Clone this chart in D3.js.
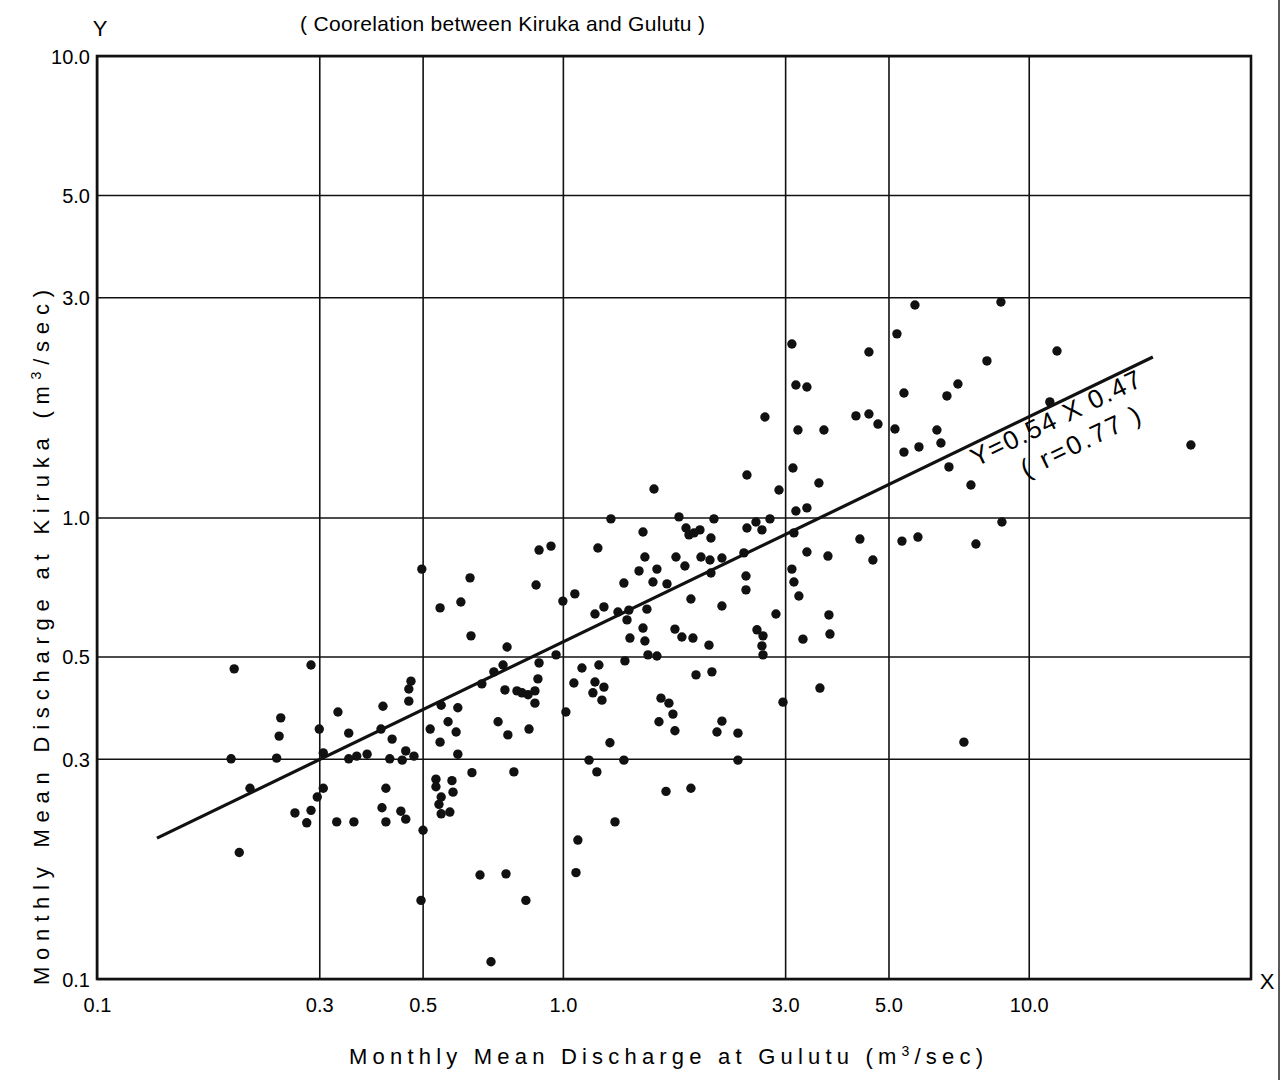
<!DOCTYPE html>
<html>
<head>
<meta charset="utf-8">
<script src="https://cdn.jsdelivr.net/npm/d3@7"></script>
<style>
  body { margin: 0; background: #fff; }
  svg { display: block; font-family: "Liberation Sans", "DejaVu Sans", sans-serif; }
  .grid line { stroke: #111; stroke-width: 1.6; }
  .grid text { font-size: 20px; fill: #000; }
</style>
</head>
<body>
<div id="chart"></div>
<script>
// monthly mean discharge (m3/sec)
var gulutu = [
  0.197,0.288,0.248,0.246,0.194,0.243,0.300,0.306,0.329,0.347,
  0.347,0.361,0.380,0.411,0.407,0.430,0.472,0.467,0.467,0.425,
  0.452,0.460,0.479,0.213,0.306,0.297,0.288,0.266,0.282,0.327,
  0.356,0.417,0.409,0.449,0.417,0.460,0.501,0.202,0.548,0.595,
  0.567,0.519,0.590,0.545,0.595,0.711,0.670,0.726,0.638,0.534,
  0.534,0.578,0.581,0.548,0.542,0.548,0.572,0.664,
  0.498,0.632,0.604,0.545,0.635,0.759,0.889,0.943,0.876,1.000,
  0.967,1.061,1.189,1.500,1.457,1.592,1.749,1.828,1.979,2.069,
  2.195,2.079,1.352,1.561,1.673,1.883,2.195,1.172,1.225,1.313,
  1.386,1.515,1.373,1.486,1.393,1.500,1.740,1.801,1.902,2.059,
  1.523,1.592,1.359,1.099,1.195,1.931,2.089,1.056,1.172,1.225,
  1.160,1.213,1.624,1.689,1.723,1.608,1.740,2.195,2.142,2.376,
  1.262,0.889,0.744,0.751,0.797,0.817,0.842,0.871,0.884,0.871,
  1.015,0.762,0.846,0.785,1.138,1.183,1.352,1.665,1.883,2.376,
  1.294,1.077,0.755,1.067,0.833,0.701,0.496,
  3.164,3.341,2.484,2.597,2.783,2.675,2.447,3.133,4.341,3.341,
  3.707,4.629,3.102,3.133,3.211,2.472,2.472,2.867,3.725,3.744,
  3.276,2.610,2.689,2.675,2.689,3.563,2.968,5.344,5.783,7.703,
  8.759,7.259,
  5.698,8.716,3.102,5.213,4.539,3.164,3.341,8.134,11.50,7.047,
  5.397,6.674,2.715,4.257,4.539,4.746,3.196,3.634,5.162,6.352,
  11.10,5.812,5.397,6.479,6.741,7.516,2.484,2.910,3.118,3.545,
  22.29,
  1.569,1.268,1.775,2.110,1.486,1.838,1.865,1.912,1.969,2.079
];
var kiruka = [
  0.470,0.479,0.368,0.336,0.300,0.301,0.348,0.309,0.379,0.341,
  0.300,0.304,0.307,0.390,0.348,0.331,0.442,0.425,0.400,0.300,
  0.298,0.312,0.304,0.259,0.259,0.248,0.232,0.229,0.218,0.219,
  0.219,0.259,0.235,0.231,0.219,0.222,0.210,0.188,0.392,0.387,
  0.361,0.348,0.343,0.326,0.307,0.463,0.436,0.361,0.280,0.271,
  0.261,0.269,0.254,0.248,0.239,0.228,0.230,0.168,
  0.773,0.740,0.656,0.637,0.554,0.524,0.850,0.867,0.714,0.659,
  0.504,0.683,0.859,0.821,0.766,0.773,0.821,0.785,0.821,0.809,
  0.817,0.758,0.721,0.725,0.718,0.666,0.643,0.618,0.640,0.624,
  0.630,0.633,0.600,0.576,0.548,0.540,0.573,0.551,0.548,0.529,
  0.504,0.501,0.489,0.472,0.479,0.456,0.463,0.438,0.440,0.429,
  0.417,0.402,0.406,0.396,0.375,0.361,0.345,0.362,0.343,0.341,
  0.325,0.484,0.479,0.423,0.421,0.417,0.413,0.421,0.447,0.396,
  0.379,0.338,0.348,0.281,0.298,0.281,0.298,0.255,0.259,0.298,
  0.219,0.200,0.169,0.170,0.148,0.109,0.148,
  1.033,1.049,0.949,0.978,0.993,0.940,0.838,0.926,0.898,0.842,
  0.825,0.809,0.773,0.725,0.676,0.747,0.697,0.618,0.615,0.559,
  0.545,0.571,0.554,0.527,0.504,0.427,0.398,0.889,0.907,0.876,
  0.978,0.326,
  2.887,2.931,2.377,2.500,2.284,1.937,1.918,2.184,2.295,1.947,
  1.861,1.834,1.651,1.660,1.676,1.594,1.547,1.547,1.555,1.547,
  1.780,1.422,1.386,1.450,1.287,1.176,1.236,1.147,1.280,1.188,
  1.436,
  1.153,0.993,1.003,0.993,0.930,0.949,0.917,0.926,0.940,0.903
];

var xTicks = [0.1, 0.3, 0.5, 1, 3, 5, 10];
var xTickLabels = ["0.1", "0.3", "0.5", "1.0", "3.0", "5.0", "10.0"];
var yTicks = [0.1, 0.3, 0.5, 1, 3, 5, 10];
var yTickLabels = ["0.1", "0.3", "0.5", "1.0", "3.0", "5.0", "10.0"];

// regression line ends, Y = 0.54 X^0.47
var fitX = [0.1345, 18.47];
var fitY = [0.202, 2.228];

var margin = {top: 56, right: 33, bottom: 101, left: 97},
    width = 1284 - margin.left - margin.right,
    height = 1080 - margin.top - margin.bottom;

var root = d3.select("#chart").append("svg")
    .attr("width", 1284)
    .attr("height", 1080);

var svg = root.append("g")
    .attr("transform", "translate(" + margin.left + "," + margin.top + ")");

var x = d3.scaleLog().domain([0.1, 30]).range([0, width]);
var y = d3.scaleLog().domain([0.1, 10]).range([height, 0]);

// grid lines + tick labels
svg.append("g")
    .attr("class", "grid")
    .attr("transform", "translate(0," + height + ")")
    .call(d3.axisBottom(x).tickValues(xTicks)
        .tickFormat(function(d, i) { return xTickLabels[i]; })
        .tickSize(-height).tickPadding(19))
    .call(function(g) { g.select(".domain").remove(); });

svg.append("g")
    .attr("class", "grid")
    .call(d3.axisLeft(y).tickValues(yTicks)
        .tickFormat(function(d, i) { return yTickLabels[i]; })
        .tickSize(-width).tickPadding(7))
    .call(function(g) { g.select(".domain").remove(); })
    .selectAll("text").attr("dy", "0.36em");

svg.append("rect")
    .attr("width", width)
    .attr("height", height)
    .attr("fill", "none")
    .attr("stroke", "#111")
    .attr("stroke-width", 2.6);

// points
var pts = gulutu.map(function(g, i) { return {x: g, y: kiruka[i]}; });
svg.selectAll("circle.pt")
    .data(pts)
    .enter().append("circle")
    .attr("class", "pt")
    .attr("cx", function(d) { return x(d.x); })
    .attr("cy", function(d) { return y(d.y); })
    .attr("r", 4.7)
    .attr("fill", "#111");

// fitted line
var fit = fitX.map(function(v, i) { return [v, fitY[i]]; });
svg.append("path")
    .attr("d", d3.line()
        .x(function(d) { return x(d[0]); })
        .y(function(d) { return y(d[1]); })(fit))
    .attr("stroke", "#111")
    .attr("stroke-width", 3.2)
    .attr("fill", "none");

var eq = root.append("g")
    .attr("transform", "translate(976,467) rotate(-26)")
    .attr("fill", "#000")
    .style("font-size", "26px");
eq.append("text")
    .attr("x", 0).attr("y", 0)
    .attr("textLength", 186)
    .attr("lengthAdjust", "spacing")
    .text("Y=0.54 X 0.47");
eq.append("text")
    .attr("x", 40).attr("y", 32)
    .attr("textLength", 130)
    .attr("lengthAdjust", "spacing")
    .text("( r=0.77 )");

// titles
root.append("text")
    .attr("x", 300).attr("y", 31)
    .attr("textLength", 405)
    .attr("lengthAdjust", "spacing")
    .style("font-size", "21px")
    .attr("fill", "#000")
    .text("( Coorelation between Kiruka and Gulutu )");

root.append("text")
    .attr("x", 100).attr("y", 36)
    .attr("text-anchor", "middle")
    .style("font-size", "22px")
    .attr("fill", "#000")
    .text("Y");

root.append("text")
    .attr("x", 1267).attr("y", 989)
    .attr("text-anchor", "middle")
    .style("font-size", "22px")
    .attr("fill", "#000")
    .text("X");

var xt = root.append("text")
    .attr("x", 349).attr("y", 1064)
    .attr("textLength", 634)
    .attr("lengthAdjust", "spacing")
    .style("font-size", "22px")
    .attr("fill", "#000");
xt.append("tspan").text("Monthly Mean Discharge at Gulutu (m");
xt.append("tspan").attr("baseline-shift", "super").style("font-size", "14px").text("3");
xt.append("tspan").text("/sec)");

var yt = root.append("text")
    .attr("transform", "translate(49,985) rotate(-90)")
    .attr("textLength", 695)
    .attr("lengthAdjust", "spacing")
    .style("font-size", "22px")
    .attr("fill", "#000");
yt.append("tspan").text("Monthly Mean Discharge at Kiruka (m");
yt.append("tspan").attr("baseline-shift", "super").style("font-size", "14px").text("3");
yt.append("tspan").text("/sec)");

// page edge of the scan
root.append("line")
    .attr("x1", 1279).attr("x2", 1279)
    .attr("y1", 0).attr("y2", 1080)
    .attr("stroke", "#222")
    .attr("stroke-width", 1.5);
</script>
</body>
</html>
